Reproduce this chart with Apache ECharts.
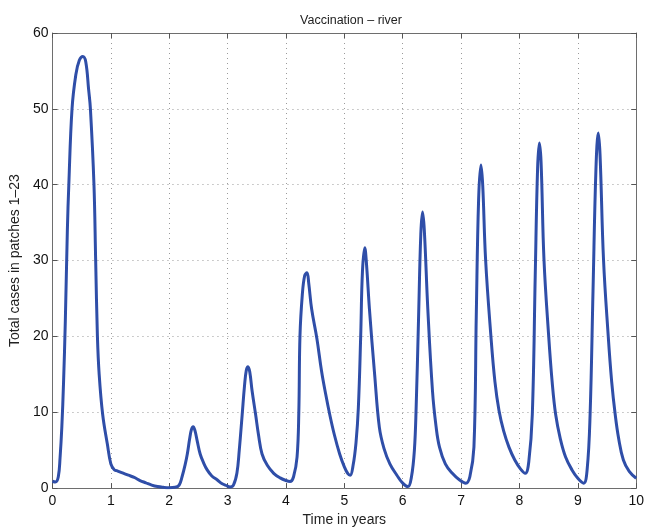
<!DOCTYPE html>
<html>
<head>
<meta charset="utf-8">
<script src="https://cdn.jsdelivr.net/npm/echarts@6/dist/echarts.min.js"></script>
<style>html,body{margin:0;padding:0;background:#fff}#c{width:647px;height:532px}</style>
</head>
<body>
<div id="c"></div>
<script>
const titleText = 'Vaccination \u2013 river';
const xAxisName = 'Time in years';
const yAxisName = 'Total cases in patches 1\u201323';
const xTicks = [0,1,2,3,4,5,6,7,8,9,10];
const yTicks = [0,10,20,30,40,50,60];
const times = [0,0.05,0.1,0.13,0.16,0.19,0.22,0.255,0.28,0.335,0.4,0.46,0.52,0.57,0.62,0.65,0.71,0.74,0.77,0.8,0.86,0.94,1.0,1.06,1.1,1.2,1.3,1.4,1.5,1.6,1.7,1.8,1.9,2.0,2.1,
2.17,2.22,2.27,2.31,2.35,2.38,2.41,2.44,2.48,2.53,2.59,2.65,2.73,2.82,2.9,2.99,3.04,3.1,3.16,3.2,3.25,3.29,3.32,3.35,3.38,3.42,3.48,3.53,3.59,3.68,3.79,3.9,4.0,4.07,
4.13,4.19,4.22,4.24,4.28,4.32,4.36,4.39,4.44,4.53,4.61,4.68,4.75,4.83,4.92,5.0,5.06,5.1,
5.15,5.2,5.24,5.28,5.31,5.35,5.38,5.43,5.52,5.6,5.68,5.78,5.9,6.0,6.09,
6.15,6.2,6.23,6.27,6.31,6.34,6.37,6.43,6.51,6.57,6.63,6.73,6.85,6.97,7.08,
7.15,7.22,7.26,7.3,7.34,7.37,7.42,7.51,7.58,7.65,7.73,7.82,7.92,8.02,8.1,
8.16,8.22,8.27,8.31,8.34,8.37,8.42,8.5,8.56,8.62,8.7,8.79,8.9,9.0,9.1,
9.16,9.21,9.26,9.31,9.35,9.38,9.44,9.52,9.58,9.64,9.7,9.78,9.88,10.0];
const cases = [0.9,0.8,1.5,4,8,14,22,34,40,50,54.5,56.4,56.9,56.2,52.5,50,40.2,30,20,15,9.7,5.8,3.2,2.4,2.3,2.0,1.7,1.4,1.0,0.7,0.4,0.2,0.1,0.05,0.1,
0.4,1.5,3,4.5,6.5,7.7,8.1,7.6,6.2,4.5,3.3,2.4,1.6,1.1,0.6,0.3,0.15,0.4,2,5,9.7,13.5,15.5,16.0,15.3,12.8,9.7,7,4.5,3.0,1.95,1.35,1.0,0.87,
1.5,4.1,10,20.1,25.5,28.0,28.4,27,23.6,19.7,15.4,12.4,9.7,7,4.5,2.8,1.9,1.7,
3,6,10.6,20,28.5,31.7,29.5,23.6,14.9,8.0,5.2,3.2,1.7,0.65,0.2,
1.5,5,10.6,22,33.5,36.4,34,23.6,12.8,8.2,5.4,3.2,1.95,1.1,0.65,
1.5,5.4,22.7,38,42.6,40,30.1,20.1,14,10.2,7.5,5.4,3.7,2.5,1.95,
3.5,9.7,28,42,45.5,43,30.1,20.1,14,9.7,6.5,4.1,2.4,1.3,0.65,
2.5,9.7,26,42,46.8,44,30.1,20.1,14,9.7,6.5,3.7,2.2,1.3];

const data = times.map((t,i)=>[t,cases[i]]);
const font = 'Liberation Sans, Arial, Helvetica, sans-serif';
const chart = echarts.init(document.getElementById('c'), null, {renderer:'canvas'});
const gridLine = {show:true, lineStyle:{color:'#9a9a9a', type:[1,4], width:1}};
const axLine = {show:true, onZero:false, lineStyle:{color:'#6e6e6e', width:1}};
const tick = {show:true, inside:true, length:5, lineStyle:{color:'#555', width:1}};
chart.setOption({
  animation:false,
  backgroundColor:'#fff',
  title:{text:titleText, left:346, top:9, textAlign:'center', textStyle:{fontFamily:font, fontSize:12.5, fontWeight:'normal', color:'#222'}},
  grid:{left:51, right:9, top:33, bottom:37, containLabel:false},
  xAxis:[{
    type:'value', min:0, max:10, interval:1, position:'bottom',
    name:xAxisName, nameLocation:'middle', nameGap:20,
    nameTextStyle:{fontFamily:font, fontSize:14, color:'#222'},
    axisLine:axLine, axisTick:tick, splitLine:gridLine,
    axisLabel:{fontFamily:font, fontSize:14, color:'#111', margin:6, formatter:v=>xTicks.includes(v)?String(v):''}
  },{
    type:'value', min:0, max:10, interval:1, position:'top',
    axisLine:axLine, axisTick:tick, splitLine:{show:false}, axisLabel:{show:false}
  }],
  yAxis:[{
    type:'value', min:0, max:60, interval:10, position:'left',
    name:yAxisName, nameLocation:'middle', nameGap:25, nameRotate:90,
    nameTextStyle:{fontFamily:font, fontSize:14, color:'#222'},
    axisLine:axLine, axisTick:tick, splitLine:gridLine,
    axisLabel:{fontFamily:font, fontSize:14, color:'#111', margin:4, formatter:v=>yTicks.includes(v)?String(v):''}
  },{
    type:'value', min:0, max:60, interval:10, position:'right',
    axisLine:axLine, axisTick:tick, splitLine:{show:false}, axisLabel:{show:false}
  }],
  series:[{
    type:'line', data:data, xAxisIndex:0, yAxisIndex:0,
    showSymbol:false, smooth:0.4,
    lineStyle:{color:'#2f4ea8', width:3},
    clip:true
  }]
});
</script>
</body>
</html>
